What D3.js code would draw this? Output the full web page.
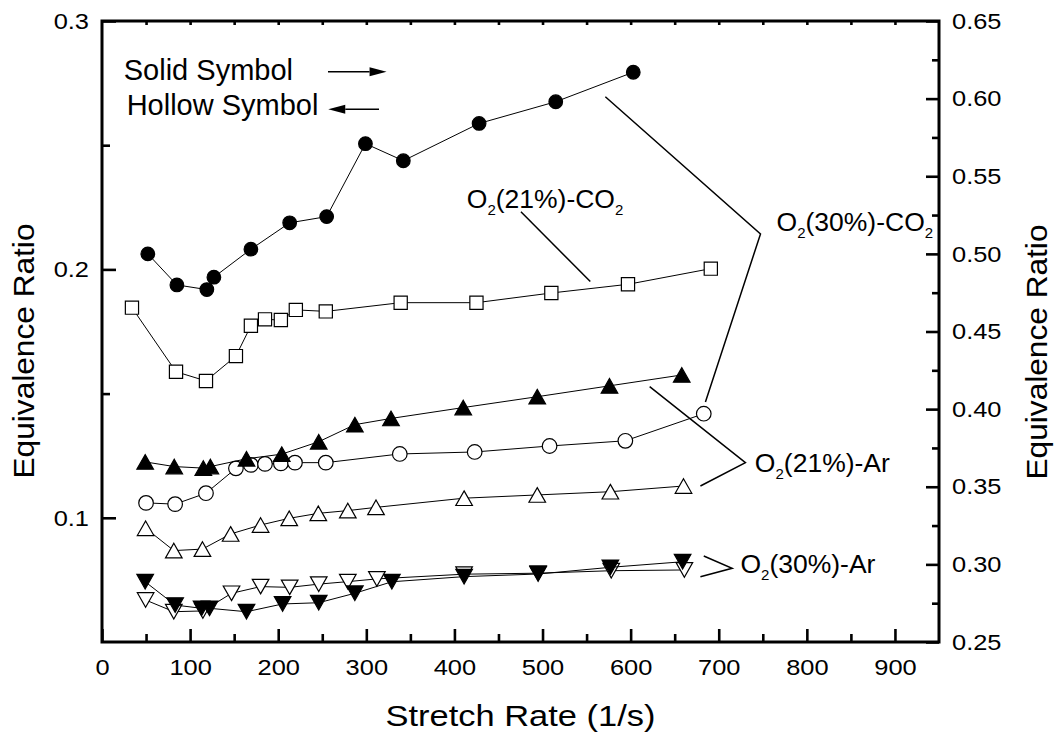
<!DOCTYPE html>
<html>
<head>
<meta charset="utf-8">
<script src="https://cdn.jsdelivr.net/npm/d3@7"></script>
<style>
  body { margin: 0; background: #fff; }
  svg { font-family: "Liberation Sans", Arial, sans-serif; }
</style>
</head>
<body>
<svg id="chart"></svg>
<script>
// values: stretch rate (1/s) vs equivalence ratio
// solid symbols -> right axis, hollow symbols -> left axis

// O2(30%)-CO2, solid circles
const co2_30_solidX = [52, 85, 119, 127, 169, 213, 255, 299, 342, 428, 515, 603];
const co2_30_solidY = [0.500, 0.480, 0.477, 0.485, 0.503, 0.520, 0.524, 0.571, 0.560, 0.584, 0.598, 0.617];

// O2(21%)-CO2, hollow squares
const co2_21_hollowX = [34, 84, 118, 152, 169, 185, 203, 220, 254, 339, 425, 510, 597, 691];
const co2_21_hollowY = [0.1846, 0.1588, 0.1551, 0.1651, 0.1773, 0.1799, 0.1796, 0.1837, 0.1831, 0.1866, 0.1866, 0.1905, 0.1940, 0.2003];

// O2(30%)-CO2, hollow circles
const co2_30_hollowX = [50, 83, 118, 152, 169, 185, 203, 219, 254, 338, 423, 508, 594, 683];
const co2_30_hollowY = [0.1060, 0.1055, 0.1099, 0.1199, 0.1213, 0.1217, 0.1219, 0.1222, 0.1222, 0.1257, 0.1265, 0.1289, 0.1310, 0.1419];

// O2(21%)-Ar, solid up triangles
const ar_21_solidX = [49, 82, 115, 123, 164, 204, 246, 287, 328, 410, 494, 576, 658];
const ar_21_solidY = [0.366, 0.363, 0.362, 0.363, 0.368, 0.371, 0.379, 0.390, 0.394, 0.401, 0.408, 0.415, 0.422];

// O2(21%)-Ar, hollow up triangles
const ar_21_hollowX = [49.5, 81.5, 114, 146, 180, 212.5, 245.5, 279, 311, 411, 494, 577, 660];
const ar_21_hollowY = [0.0958, 0.0868, 0.0874, 0.0935, 0.0971, 0.0998, 0.1018, 0.1029, 0.1042, 0.1079, 0.1092, 0.1105, 0.1128];

// O2(30%)-Ar, hollow down triangles
const ar_30_hollowX = [49.5, 81.5, 114.5, 147, 180, 213, 246, 279, 312, 411, 495, 578, 661];
const ar_30_hollowY = [0.0669, 0.0622, 0.0625, 0.0696, 0.0723, 0.0720, 0.0733, 0.0743, 0.0754, 0.0773, 0.0777, 0.0787, 0.0790];

// O2(30%)-Ar, solid down triangles
const ar_30_solidX = [49, 83, 113, 122, 164, 205, 246, 287, 329, 411, 495, 577, 659];
const ar_30_solidY = [0.2888, 0.2738, 0.2717, 0.2717, 0.2695, 0.2745, 0.2753, 0.2814, 0.2888, 0.2921, 0.2938, 0.2981, 0.3017];

// tick values
const xMajorTicks = [0, 100, 200, 300, 400, 500, 600, 700, 800, 900];
const xMinorTicks = [50, 150, 250, 350, 450, 550, 650, 750, 850];
const xTopTicks = [50, 100, 150, 200, 250, 300, 350, 400, 450, 500, 550, 600, 650, 700, 750, 800, 850, 900];
const leftMajorTicks = [0.1, 0.2, 0.3];
const leftMinorTicks = [0.15, 0.25];
const rightMajorTicks = [0.25, 0.30, 0.35, 0.40, 0.45, 0.50, 0.55, 0.60, 0.65];
const rightMinorTicks = [0.275, 0.325, 0.375, 0.425, 0.475, 0.525, 0.575, 0.625];

const W = 1059, H = 735;
const margin = {top: 21, right: 120, bottom: 93, left: 102};
const plotW = W - margin.left - margin.right;
const plotH = H - margin.top - margin.bottom;
const FONT = '"Liberation Sans", Arial, sans-serif';

const svg = d3.select('#chart').attr('width', W).attr('height', H);

const x = d3.scaleLinear().domain([0, 950]).range([margin.left, margin.left + plotW]);
const yL = d3.scaleLinear().domain([0.05, 0.3]).range([margin.top + plotH, margin.top]);
const yR = d3.scaleLinear().domain([0.25, 0.65]).range([margin.top + plotH, margin.top]);

const zip = (xs, ys) => xs.map((v, i) => ({x: v, y: ys[i]}));

const series = [
  {data: zip(co2_30_solidX, co2_30_solidY), axis: 'R', shape: 'circle', filled: true},
  {data: zip(co2_21_hollowX, co2_21_hollowY), axis: 'L', shape: 'square', filled: false},
  {data: zip(co2_30_hollowX, co2_30_hollowY), axis: 'L', shape: 'circle', filled: false},
  {data: zip(ar_21_solidX, ar_21_solidY), axis: 'R', shape: 'up', filled: true},
  {data: zip(ar_21_hollowX, ar_21_hollowY), axis: 'L', shape: 'up', filled: false},
  {data: zip(ar_30_hollowX, ar_30_hollowY), axis: 'L', shape: 'down', filled: false},
  {data: zip(ar_30_solidX, ar_30_solidY), axis: 'R', shape: 'down', filled: true}
];

const shapePath = {
  circle: d => { const r = d ? 6.8 : 7.3; return `M${-r},0A${r},${r} 0 1,0 ${r},0A${r},${r} 0 1,0 ${-r},0Z`; },
  square: () => 'M-6.6,-6.6H6.6V6.6H-6.6Z',
  up: () => 'M0,-7.3L8.3,7.3L-8.3,7.3Z',
  down: () => 'M0,7.3L8.3,-7.3L-8.3,-7.3Z'
};

// axes -- all ticks point inward
function styleAxis(g) {
  g.attr('font-family', FONT);
  g.select('.domain').remove();
  g.selectAll('.tick line').attr('stroke', '#000').attr('stroke-width', 2.6);
  g.selectAll('.tick text')
    .attr('fill', '#000')
    .style('font-family', FONT)
    .style('font-size', '22.5px')
    .attr('transform', 'scale(1.13,1)')
    .attr('x', function() { return (+this.getAttribute('x') || 0) / 1.13; });
}

const bottom = margin.top + plotH;
const right = margin.left + plotW;

svg.append('g').attr('transform', `translate(0,${bottom})`)
  .call(d3.axisBottom(x).tickValues(xMajorTicks).tickSize(-13).tickPadding(17).tickFormat(d3.format('d')))
  .call(styleAxis);
svg.append('g').attr('transform', `translate(0,${bottom})`)
  .call(d3.axisBottom(x).tickValues(xMinorTicks).tickSize(-8).tickFormat(''))
  .call(styleAxis);
svg.append('g').attr('transform', `translate(0,${margin.top})`)
  .call(d3.axisTop(x).tickValues(xTopTicks).tickSize(-4).tickFormat(''))
  .call(styleAxis);

svg.append('g').attr('transform', `translate(${margin.left},0)`)
  .call(d3.axisLeft(yL).tickValues(leftMajorTicks).tickSize(-14).tickPadding(13).tickFormat(d3.format('.1f')))
  .call(styleAxis);
svg.append('g').attr('transform', `translate(${margin.left},0)`)
  .call(d3.axisLeft(yL).tickValues(leftMinorTicks).tickSize(-8).tickFormat(''))
  .call(styleAxis);

svg.append('g').attr('transform', `translate(${right},0)`)
  .call(d3.axisRight(yR).tickValues(rightMajorTicks).tickSize(-13).tickPadding(13).tickFormat(d3.format('.2f')))
  .call(styleAxis);
svg.append('g').attr('transform', `translate(${right},0)`)
  .call(d3.axisRight(yR).tickValues(rightMinorTicks).tickSize(-7).tickFormat(''))
  .call(styleAxis);

// frame
svg.append('rect')
  .attr('x', margin.left).attr('y', margin.top)
  .attr('width', plotW).attr('height', plotH)
  .attr('fill', 'none').attr('stroke', '#000').attr('stroke-width', 3);

// axis titles
svg.append('text')
  .attr('x', margin.left + plotW / 2).attr('y', 726)
  .attr('text-anchor', 'middle')
  .attr('textLength', 270).attr('lengthAdjust', 'spacingAndGlyphs')
  .style('font-size', '30px')
  .text('Stretch Rate (1/s)');

svg.append('text')
  .attr('transform', `translate(34,351) rotate(-90)`)
  .attr('text-anchor', 'middle')
  .attr('textLength', 255).attr('lengthAdjust', 'spacingAndGlyphs')
  .style('font-size', '30px')
  .text('Equivalence Ratio');

svg.append('text')
  .attr('transform', `translate(1047,352) rotate(-90)`)
  .attr('text-anchor', 'middle')
  .attr('textLength', 255).attr('lengthAdjust', 'spacingAndGlyphs')
  .style('font-size', '30px')
  .text('Equivalence Ratio');

// series
const plot = svg.append('g');
series.forEach(s => {
  const yS = s.axis === 'R' ? yR : yL;
  const line = d3.line().x(d => x(d.x)).y(d => yS(d.y));
  plot.append('path')
    .datum(s.data)
    .attr('d', line)
    .attr('fill', 'none')
    .attr('stroke', '#000')
    .attr('stroke-width', 1);
  plot.append('g').selectAll('path')
    .data(s.data)
    .join('path')
    .attr('transform', d => `translate(${x(d.x)},${yS(d.y)})`)
    .attr('d', shapePath[s.shape](s.filled))
    .attr('fill', s.filled ? '#000' : '#fff')
    .attr('stroke', '#000')
    .attr('stroke-width', 1.2);
});

// annotations (positions in stretch rate / left-axis units)
const notes = svg.append('g');

notes.append('text').attr('x', x(24.7)).attr('y', yL(0.2763))
  .style('font-size', '29px').text('Solid Symbol');
notes.append('text').attr('x', x(28)).attr('y', yL(0.2622))
  .style('font-size', '29px').text('Hollow Symbol');

function arrow(x0, x1, yv) {
  const px0 = x(x0), px1 = x(x1), py = yL(yv);
  const dir = Math.sign(px1 - px0), head = 17;
  notes.append('line')
    .attr('x1', px0).attr('x2', px1 - dir * head).attr('y1', py).attr('y2', py)
    .attr('stroke', '#000').attr('stroke-width', 1.5);
  notes.append('path')
    .attr('d', `M${px1},${py}L${px1 - dir * head},${py - 4.5}L${px1 - dir * head},${py + 4.5}Z`)
    .attr('fill', '#000');
}
arrow(256.5, 323, 0.2796);
arrow(314.4, 256.8, 0.2645);

function label(xv, yv, parts) {
  const t = notes.append('text').attr('x', x(xv)).attr('y', yL(yv)).style('font-size', '26.5px');
  let down = false;
  parts.forEach(p => {
    const sub = p.sub === true;
    const ts = t.append('tspan').text(p.t);
    if (sub) { ts.style('font-size', '15px').attr('dy', 7); down = true; }
    else if (down) { ts.attr('dy', -7); down = false; }
  });
}
function pointer(pts) {
  notes.append('path')
    .attr('d', d3.line().x(d => x(d[0])).y(d => yL(d[1]))(pts))
    .attr('fill', 'none').attr('stroke', '#000').attr('stroke-width', 1.5);
}

label(414, 0.2247, [{t: 'O'}, {t: '2', sub: true}, {t: '(21%)-CO'}, {t: '2', sub: true}]);
pointer([[475.5, 0.2232], [554.2, 0.1951]]);

label(765.6, 0.2156, [{t: 'O'}, {t: '2', sub: true}, {t: '(30%)-CO'}, {t: '2', sub: true}]);
pointer([[571.3, 0.2695], [747.4, 0.2143], [684.9, 0.1466]]);

label(741, 0.1186, [{t: 'O'}, {t: '2', sub: true}, {t: '(21%)-Ar'}]);
pointer([[621.6, 0.1528], [730.3, 0.1222], [679.2, 0.1128]]);

label(724.6, 0.0777, [{t: 'O'}, {t: '2', sub: true}, {t: '(30%)-Ar'}]);
pointer([[683, 0.0846], [715.2, 0.0797], [679.2, 0.0763]]);
</script>
</body>
</html>
